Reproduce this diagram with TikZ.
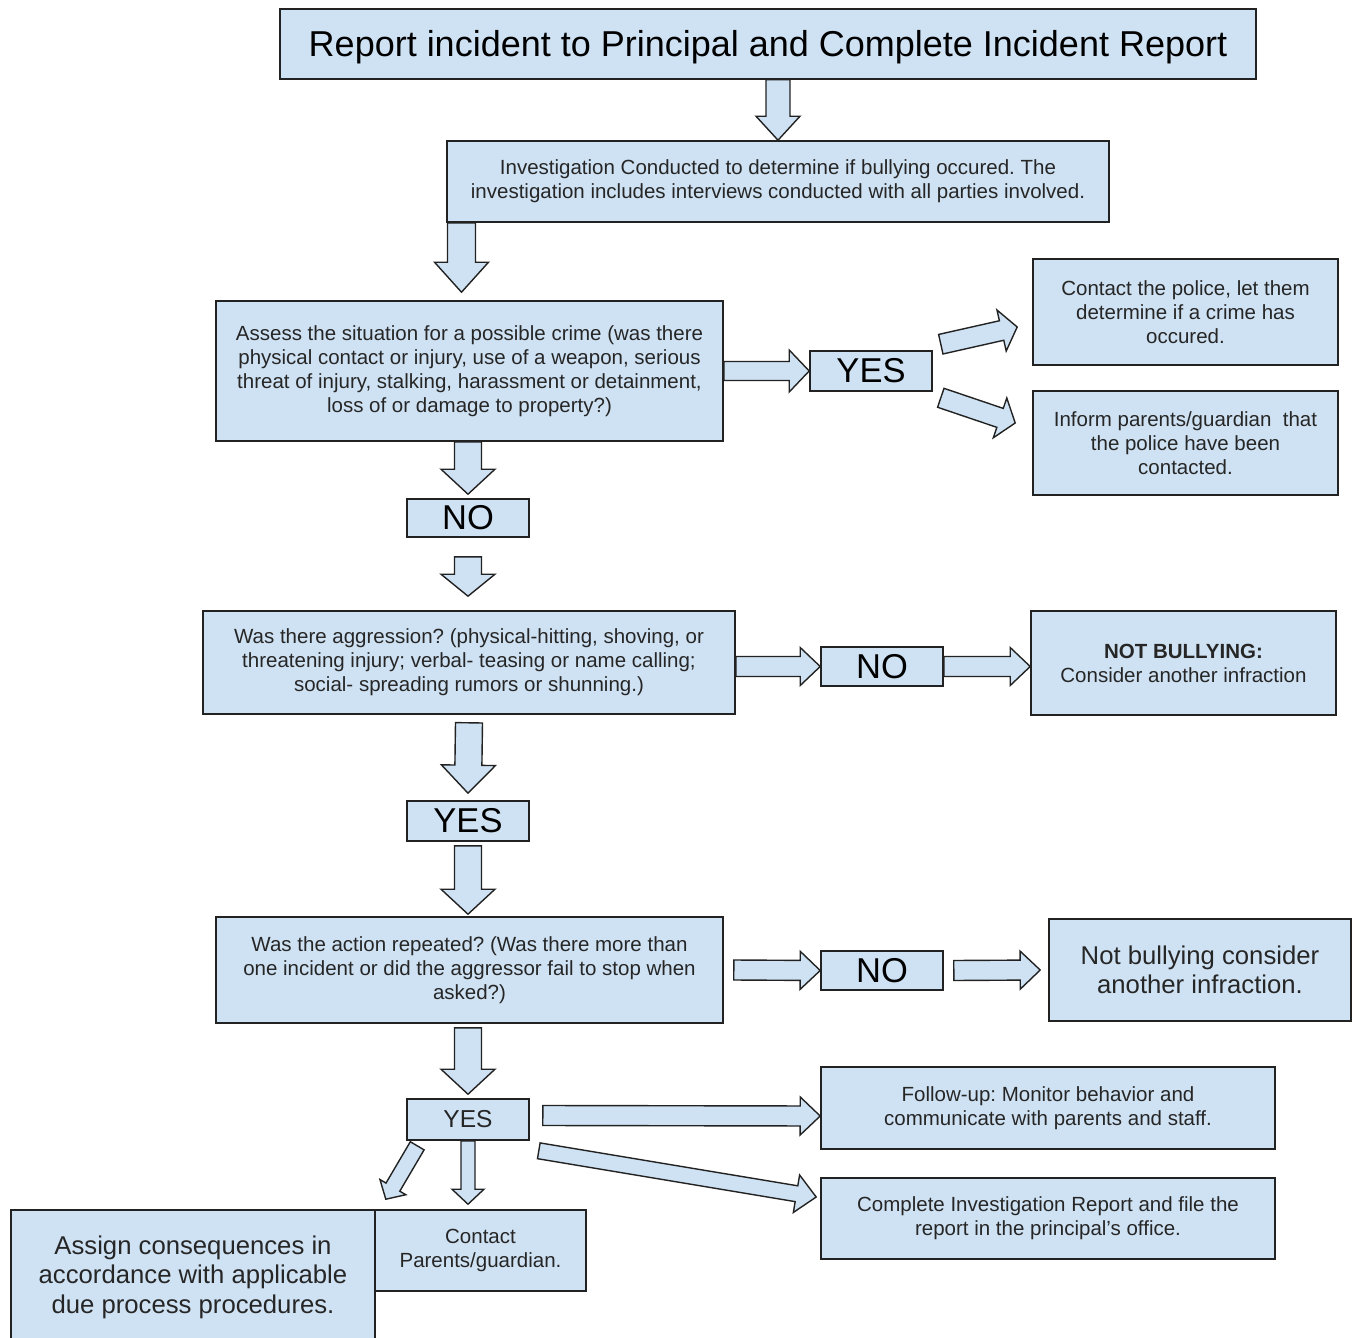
\documentclass[tikz,border=0pt]{standalone}
\usepackage{fontspec}
\setmainfont{Liberation Sans}
\frenchspacing
\usetikzlibrary{calc}
\definecolor{boxfill}{RGB}{207,226,243}
\definecolor{linec}{RGB}{34,34,34}
\newcommand\fsTitle{\fontsize{36}{40}\selectfont}
\newcommand\fsSmall{\fontsize{20.5}{24}\selectfont}
\newcommand\fsMid{\fontsize{25.7}{29.5}\selectfont}
\newcommand\fsBig{\fontsize{34.5}{40}\selectfont}
\newcommand\fsYes{\fontsize{24.5}{28}\selectfont}
\newcommand\barrow[5]{%
  \coordinate (bS) at (#1);
  \coordinate (bT) at (#2);
  \coordinate (bH) at ($(bT)!#5!(bS)$);
  \draw[blk] ($(bS)!#3!90:(bT)$) -- ($(bH)!#3!-90:(bS)$) -- ($(bH)!#4!-90:(bS)$) -- (bT)
     -- ($(bH)!#4!90:(bS)$) -- ($(bH)!#3!90:(bS)$) -- ($(bS)!#3!-90:(bT)$) -- cycle;}
\begin{document}
\begin{tikzpicture}[x=1pt,y=-1pt,
  box/.style={draw=linec, line width=1.6pt, fill=boxfill, inner sep=0pt, align=center,
    text=black!85, font=\fsSmall},
  lowered/.style={execute at begin node={\rule{0pt}{#1}}},
  sbox/.style={box, lowered=22.5pt},
  blk/.style={draw=linec, line width=1.4pt, fill=boxfill, line join=miter}]
\useasboundingbox (0,0) rectangle (1353,1338);
% boxes
\node[box, lowered=32pt, minimum width=976pt, minimum height=70pt, font=\fsTitle, text=black] (title) at (768,44)
  {Report incident to Principal and Complete Incident Report};
\node[sbox, minimum width=662pt, minimum height=81pt] (inv) at (778,181.5)
  {Investigation Conducted to determine if bullying occured. The\\investigation includes interviews conducted with all parties involved.};
\node[sbox, minimum width=507pt, minimum height=140pt] (assess) at (469.5,371)
  {Assess the situation for a possible crime (was there\\physical contact or injury, use of a weapon, serious\\threat of injury, stalking, harassment or detainment,\\loss of or damage to property?)};
\node[box, minimum width=122pt, minimum height=40pt, font=\fsBig, text=black] (yes1) at (871,371) {YES};
\node[sbox, minimum width=305pt, minimum height=106pt] (police) at (1185.5,312)
  {Contact the police, let them\\determine if a crime has\\occured.};
\node[sbox, minimum width=305pt, minimum height=104pt] (inform) at (1185.5,443)
  {Inform parents/guardian\ \ that\\the police have been\\contacted.};
\node[box, minimum width=122pt, minimum height=38pt, font=\fsBig, text=black] (no1) at (468,518) {NO};
\node[sbox, minimum width=532pt, minimum height=103pt] (aggr) at (469,662.5)
  {Was there aggression? (physical-hitting, shoving, or\\threatening injury; verbal- teasing or name calling;\\social- spreading rumors or shunning.)};
\node[box, minimum width=122pt, minimum height=39pt, font=\fsBig, text=black] (no2) at (882,666.5) {NO};
\node[sbox, minimum width=305pt, minimum height=104pt] (notb1) at (1183.5,663)
  {\textbf{NOT BULLYING:}\\Consider another infraction};
\node[box, minimum width=122pt, minimum height=40pt, font=\fsBig, text=black] (yes2) at (468,821) {YES};
\node[sbox, minimum width=507pt, minimum height=106pt] (rep) at (469.5,970)
  {Was the action repeated? (Was there more than\\one incident or did the aggressor fail to stop when\\asked?)};
\node[box, minimum width=122pt, minimum height=39pt, font=\fsBig, text=black] (no3) at (882,970.5) {NO};
\node[box, minimum width=302pt, minimum height=102pt, font=\fsMid] (notb2) at (1200,970)
  {Not bullying consider\\another infraction.};
\node[box, minimum width=122pt, minimum height=41pt, font=\fsYes] (yes3) at (468,1119.5) {YES};
\node[sbox, minimum width=454pt, minimum height=82pt] (follow) at (1048,1108)
  {Follow-up: Monitor behavior and\\communicate with parents and staff.};
\node[sbox, minimum width=454pt, minimum height=81pt] (complete) at (1048,1218.5)
  {Complete Investigation Report and file the\\report in the principal's office.};
\node[box, lowered=23pt, minimum width=364pt, minimum height=134pt, font=\fsMid] (assign) at (193,1277)
  {Assign consequences in\\accordance with applicable\\due process procedures.};
\node[sbox, minimum width=211pt, minimum height=81pt] (cparents) at (480.5,1250.5)
  {Contact\\Parents/guardian.};
% block arrows
\barrow{inv.north |- title.south}{inv.north}{12pt}{22pt}{24pt}
\barrow{[xshift=-8pt]assess.north |- inv.south}{[xshift=-8pt,yshift=8pt]assess.north}{14pt}{27pt}{30pt}
\barrow{assess.east}{yes1.west}{9.5pt}{21pt}{20pt}
\barrow{[xshift=8pt,yshift=6pt]yes1.north east}{[xshift=-15pt,yshift=-15pt]police.west}{10pt}{21pt}{16pt}
\barrow{[xshift=8pt,yshift=-6pt]yes1.south east}{[xshift=-17pt,yshift=20pt]inform.west}{10pt}{21pt}{16pt}
\barrow{no1.north |- assess.south}{[yshift=4pt]no1.north}{13.5pt}{27pt}{25pt}
\barrow{[yshift=-19pt]no1.south}{[yshift=14pt]no1.south |- aggr.north}{13.5pt}{27pt}{22pt}
\barrow{aggr.east |- no2.west}{no2.west}{10pt}{19pt}{20pt}
\barrow{no2.east}{notb1.west |- no2.east}{10pt}{19pt}{20pt}
\barrow{[yshift=-8pt]aggr.south}{[yshift=7pt]yes2.north}{13.5pt}{27pt}{28pt}
\barrow{[yshift=-4pt]yes2.south}{[yshift=2pt]yes2.south |- rep.north}{13.5pt}{27pt}{25pt}
\barrow{[xshift=10pt]rep.east}{no3.west}{10pt}{19pt}{20pt}
\barrow{[xshift=10pt]no3.east}{[xshift=-8pt]notb2.west}{10pt}{19pt}{20pt}
\barrow{[yshift=-4pt]rep.south -| yes3.north}{[yshift=4pt]yes3.north}{13.5pt}{27pt}{25pt}
\barrow{[xshift=13pt,yshift=4pt]yes3.east}{[yshift=-8pt]follow.west}{10pt}{19pt}{20pt}
\barrow{[xshift=9pt,yshift=-10pt]yes3.south east}{[xshift=-4pt,yshift=21.5pt]complete.west}{8pt}{19pt}{20pt}
\barrow{yes3.south}{[yshift=5pt]yes3.south |- cparents.north}{7pt}{16pt}{15pt}
\barrow{[xshift=11pt,yshift=-5pt]yes3.south west}{[xshift=10pt,yshift=10pt]assign.north east}{8pt}{15pt}{14pt}
\end{tikzpicture}
\end{document}
